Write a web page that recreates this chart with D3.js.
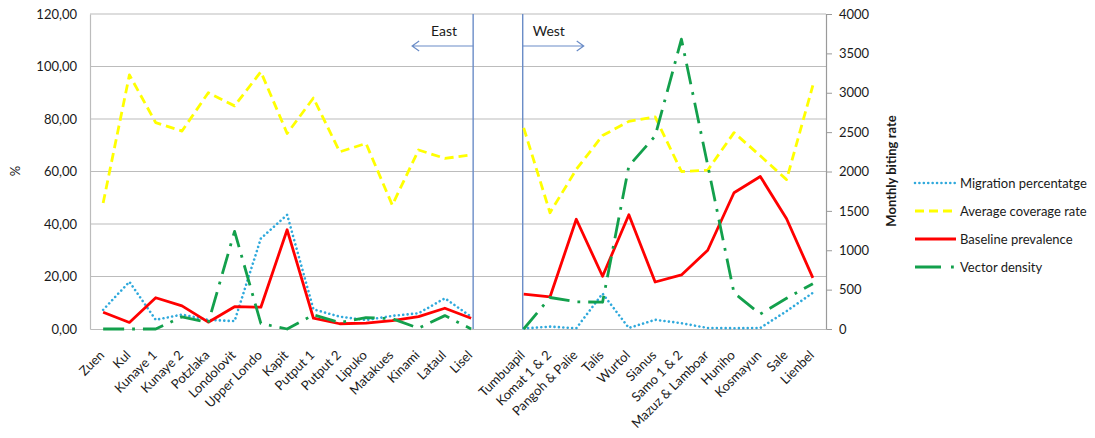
<!DOCTYPE html>
<html><head><meta charset="utf-8">
<script src="https://cdn.jsdelivr.net/npm/d3@7"></script>
<style>
body{margin:0;background:#fff;}
svg{display:block;font-family:Lato,"Open Sans",sans-serif;}
</style>
</head><body><svg id="c" width="1095" height="438"></svg>
<script>
// ---- data ----
const categories = ["Zuen","Kul","Kunaye 1","Kunaye 2","Potzlaka","Londolovit","Upper Londo","Kapit","Putput 1","Putput 2","Lipuko","Matakues","Kinami","Lataul","Lisel",
  "",
  "Tumbuapil","Komat 1 & 2","Pangoh & Palie","Talis","Wurtol","Sianus","Samo 1 & 2","Mazuz & Lamboar","Huniho","Kosmayun","Sale","Lienbel"];
const migration = [7.3,18,3.5,5.5,3.5,3,34.5,43.5,7.5,4.7,3.4,5,6,11.7,4.7,
  null,
  0.2,0.9,0.3,13.5,0.4,3.5,2.2,0.4,0.3,0.4,6.8,13.8];
const coverage = [48,96.8,78.6,75.4,90,85,98,74.5,88,67.5,70.7,47.2,68.2,65,66.3,
  null,
  76.6,44.3,60.8,73.7,79.1,80.8,60,60.5,74.8,66,56.9,92.8];
const prevalence = [6.4,2.5,11.9,8.8,2.6,8.5,8.3,37.8,4.1,2,2.2,3.2,4.7,7.9,4.1,
  null,
  13.3,12.2,41.8,20.1,43.5,17.9,20.6,30,51.9,58.1,42,19.5];
const vectorDensity = [0,0,0,155,80,1240,70,0,180,80,145,130,10,170,0,
  null,
  0,400,345,340,2070,2450,3680,2080,457,190,390,575];
const leftTicks = [0,20,40,60,80,100,120];
const rightTicks = [0,500,1000,1500,2000,2500,3000,3500,4000];
const seriesNames = ["Migration percentatge","Average coverage rate","Baseline prevalence","Vector density"];
const regionLabels = ["East","West"];

// ---- layout ----
const svg = d3.select("#c");
const L = 90, R = 826, T = 14, B = 329;
const x = d3.scaleBand().domain(d3.range(categories.length)).range([L, R]);
const bw = x.bandwidth();
const cx = i => x(i) + bw / 2;
const yL = d3.scaleLinear().domain([0, 120]).range([B, T]);
const yR = d3.scaleLinear().domain([0, 4000]).range([B, T]);
const txt = "#1a1a1a";
const gridC = "#bcbcbc";
const fmtComma = d3.formatLocale({decimal: ",", thousands: ".", grouping: [3], currency: ["", ""]}).format(".2f");

// gridlines
svg.append("g").selectAll("line").data(leftTicks.filter(d => d > 0)).join("line")
  .attr("x1", L).attr("x2", R).attr("y1", d => yL(d)).attr("y2", d => yL(d))
  .attr("stroke", gridC).attr("stroke-width", 1.2);

// left axis
const gl = svg.append("g").attr("transform", `translate(${L},0)`)
  .call(d3.axisLeft(yL).tickValues(leftTicks).tickSize(0).tickPadding(13).tickFormat(fmtComma));
gl.select(".domain").attr("stroke", gridC).attr("stroke-width", 1.2);
gl.selectAll("text").attr("font-size", 13).attr("fill", txt).attr("font-family", "Lato, sans-serif");

// right axis
const gr = svg.append("g").attr("transform", `translate(${R},0)`)
  .call(d3.axisRight(yR).tickValues(rightTicks).tickSize(6).tickPadding(7).tickFormat(d3.format("d")));
gr.select(".domain").attr("stroke", "#9a9a9a").attr("stroke-width", 1.2);
gr.selectAll(".tick line").attr("stroke", "#9a9a9a");
gr.selectAll("text").attr("font-size", 13).attr("fill", txt).attr("font-family", "Lato, sans-serif");

// bottom axis
const gb = svg.append("g").attr("transform", `translate(0,${B})`)
  .call(d3.axisBottom(x).tickSize(0).tickFormat(i => categories[i]));
gb.select(".domain").attr("stroke", gridC).attr("stroke-width", 1.2);
gb.selectAll("text")
  .attr("font-size", 13).attr("fill", txt).attr("font-family", "Lato, sans-serif")
  .attr("text-anchor", "end").attr("x", 0).attr("y", 0).attr("dy", 0)
  .attr("transform", "translate(2,27) rotate(-45)");

// titles
svg.append("text").attr("transform", "translate(20,171) rotate(-90)")
  .attr("text-anchor", "middle").attr("font-size", 13).attr("fill", txt).text("%");
svg.append("text").attr("transform", "translate(896,171) rotate(-90)")
  .attr("text-anchor", "middle").attr("font-size", 13).attr("font-weight", "bold").attr("fill", txt).text("Monthly biting rate");

// region dividers and arrows
const blue = "#6a8cc7";
const eastX = cx(14) + 2, westX = cx(16) - 1;
[eastX, westX].forEach(v => svg.append("line").attr("x1", v).attr("x2", v).attr("y1", T).attr("y2", B)
  .attr("stroke", blue).attr("stroke-width", 1.4));
const ay = 46;
svg.append("path").attr("d", `M${eastX},${ay}H${eastX - 61}M${eastX - 54},${ay - 5}L${eastX - 61},${ay}L${eastX - 54},${ay + 5}`)
  .attr("fill", "none").attr("stroke", blue).attr("stroke-width", 1.2);
svg.append("path").attr("d", `M${westX},${ay}H${westX + 61}M${westX + 54},${ay - 5}L${westX + 61},${ay}L${westX + 54},${ay + 5}`)
  .attr("fill", "none").attr("stroke", blue).attr("stroke-width", 1.2);
svg.append("text").attr("x", eastX - 16).attr("y", 36).attr("text-anchor", "end").attr("font-size", 14).attr("fill", txt).text(regionLabels[0]);
svg.append("text").attr("x", westX + 10).attr("y", 36).attr("font-size", 14).attr("fill", txt).text(regionLabels[1]);

// series
const series = [
  {name: seriesNames[0], data: migration, y: yL, color: "#2fa9dc", w: 2.6, dash: "0.01 4.4", cap: "round"},
  {name: seriesNames[1], data: coverage, y: yL, color: "#ffff00", w: 2.8, dash: "9 5", cap: "butt"},
  {name: seriesNames[2], data: prevalence, y: yL, color: "#ff0000", w: 2.8, dash: null, cap: "butt"},
  {name: seriesNames[3], data: vectorDensity, y: yR, color: "#13a04c", w: 2.8, dash: "21 8 2.8 8", cap: "butt"}
];
series.forEach(s => {
  const line = d3.line().defined(d => d != null).x((d, i) => cx(i)).y(d => s.y(d));
  svg.append("path").datum(s.data).attr("d", line)
    .attr("fill", "none").attr("stroke", s.color).attr("stroke-width", s.w)
    .attr("stroke-dasharray", s.dash).attr("stroke-linecap", s.cap).attr("stroke-linejoin", "round");
});

// legend
const lg = svg.append("g");
const rows = [183, 211, 239, 267];
series.forEach((s, i) => {
  lg.append("line").attr("x1", 915).attr("x2", 956).attr("y1", rows[i]).attr("y2", rows[i])
    .attr("stroke", s.color).attr("stroke-width", s.w)
    .attr("stroke-dasharray", i === 3 ? "26 10 2.8 10" : s.dash).attr("stroke-linecap", s.cap);
  lg.append("text").attr("x", 960).attr("y", rows[i] + 4.5).attr("font-size", 13).attr("fill", txt).text(s.name);
});
</script>
</body></html>
